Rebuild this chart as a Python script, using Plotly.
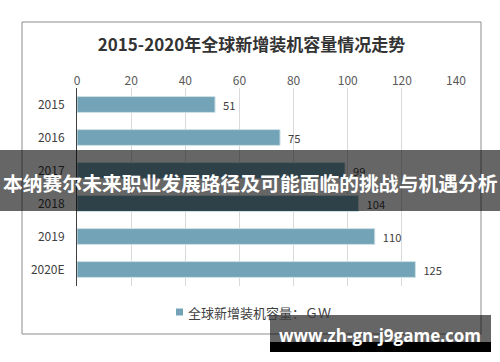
import plotly.graph_objects as go

categories = ["2015", "2016", "2017", "2018", "2019", "2020E"]
values = [51, 75, 99, 104, 110, 125]
x_ticks = [0, 20, 40, 60, 80, 100, 120, 140]
title_text = "2015-2020年全球新增装机容量情况走势"
series_name = "全球新增装机容量：ＧＷ"
banner_text = "本纳赛尔未来职业发展路径及可能面临的挑战与机遇分析"
watermark_text = "www.zh-gn-j9game.com"

W, H = 500, 362
PL, PR, PT, PB = 77, 456, 88, 286
FONT = "Noto Sans CJK SC, Noto Sans, sans-serif"
BAR_COLOR = "#73a3b6"


def px_x(p):
    return (p - PL) / (PR - PL)


def px_y(p):
    return (PB - p) / (PB - PT)


fig = go.Figure()
fig.add_trace(go.Bar(
    y=categories, x=values, orientation="h", name=series_name,
    marker=dict(color=BAR_COLOR, line=dict(color="#cfe1e8", width=1)),
    text=values, texttemplate="\u00a0\u00a0%{x}", textposition="outside",
    textfont=dict(size=12, color="#404040", family=FONT),
    cliponaxis=False, showlegend=False, hoverinfo="skip",
))

shapes = [
    # outer chart border
    dict(type="rect", xref="paper", yref="paper",
         x0=px_x(22), x1=px_x(481), y0=px_y(334), y1=px_y(22),
         line=dict(color="#8c8c8c", width=1), fillcolor="rgba(0,0,0,0)", layer="below"),
    # legend swatch
    dict(type="rect", xref="paper", yref="paper",
         x0=px_x(176), x1=px_x(183), y0=px_y(315.5), y1=px_y(308.5),
         line=dict(width=0), fillcolor=BAR_COLOR, layer="below"),
    # dark banner band
    dict(type="rect", xref="paper", yref="paper",
         x0=px_x(0), x1=px_x(500), y0=px_y(211), y1=px_y(150),
         line=dict(width=0), fillcolor="rgba(0,0,0,0.6)", layer="above"),
    # watermark box (translucent part)
    dict(type="rect", xref="paper", yref="paper",
         x0=px_x(270), x1=px_x(491), y0=px_y(342), y1=px_y(315),
         line=dict(width=0), fillcolor="rgba(0,0,0,0.6)", layer="above"),
    # watermark box (solid part)
    dict(type="rect", xref="paper", yref="paper",
         x0=px_x(270), x1=px_x(491), y0=px_y(352), y1=px_y(342),
         line=dict(width=0), fillcolor="#000000", layer="above"),
]

annotations = [
    dict(text=series_name, xref="paper", yref="paper", x=px_x(186), y=px_y(312),
         xanchor="left", yanchor="middle", showarrow=False,
         font=dict(size=13, color="#404040", family=FONT)),
    dict(text=banner_text, xref="paper", yref="paper", x=px_x(250), y=px_y(182),
         xanchor="center", yanchor="middle", showarrow=False,
         font=dict(size=19.8, color="white", family=FONT, weight="bold")),
    dict(text=watermark_text, xref="paper", yref="paper", x=px_x(380), y=px_y(335),
         xanchor="center", yanchor="middle", showarrow=False,
         font=dict(size=17, color="white", family="Open Sans, Noto Sans, sans-serif", weight="bold")),
]

fig.update_layout(
    width=W, height=H,
    margin=dict(l=PL, r=W - PR, t=PT, b=H - PB, pad=0, autoexpand=False),
    paper_bgcolor="white", plot_bgcolor="white",
    font=dict(family=FONT, color="#404040"),
    title=dict(text=title_text, x=251.5 / W, xanchor="center", xref="container",
               y=1 - 45 / H, yanchor="middle", yref="container",
               font=dict(size=17, color="#333333", family=FONT, weight="bold")),
    bargap=0.52,
    showlegend=False,
    hovermode=False,
    xaxis=dict(side="top", range=[0, 140], tickvals=x_ticks,
               showgrid=True, gridcolor="#d9d9d9", gridwidth=1,
               zeroline=False, showline=False, ticks="", automargin=False,
               tickfont=dict(size=12, color="#595959", family=FONT),
               fixedrange=True),
    yaxis=dict(categoryorder="array", categoryarray=categories, autorange="reversed",
               showline=True, linecolor="#404040", linewidth=1,
               showgrid=False, zeroline=False, ticks="", automargin=False,
               ticklabelstandoff=9,
               tickfont=dict(size=12, color="#404040", family=FONT),
               fixedrange=True),
    shapes=shapes,
    annotations=annotations,
)

fig.write_html("out.html", config={"displayModeBar": False},
               post_script="document.body.style.margin='0';")
